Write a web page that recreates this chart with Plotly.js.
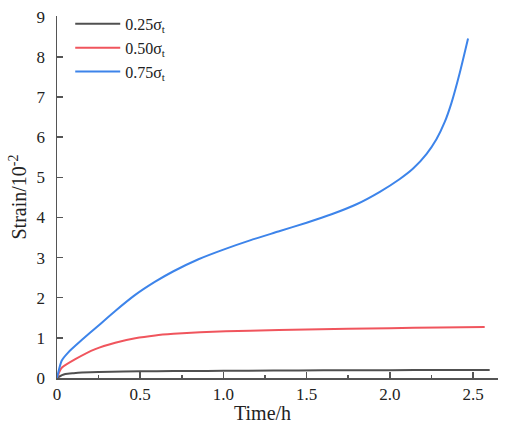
<!DOCTYPE html>
<html>
<head>
<meta charset="utf-8">
<script src="https://cdn.plot.ly/plotly-3.0.1.min.js"></script>
<style>
  html, body { margin: 0; padding: 0; background: #fff; }
  #chart { width: 505px; height: 433px; }
</style>
</head>
<body>
<div id="chart"></div>
<script>
// values
const time25 = [0, 0.03, 0.05, 0.1, 0.15, 0.25, 0.4, 0.6, 0.8, 1.0, 1.3, 1.6, 2.0, 2.3, 2.6];
const strain25 = [0, 0.07, 0.1, 0.12, 0.135, 0.15, 0.165, 0.17, 0.175, 0.18, 0.185, 0.19, 0.195, 0.2, 0.2];

const time50 = [0, 0.015, 0.03, 0.11, 0.23, 0.35, 0.47, 0.59, 0.70, 0.86, 1.16, 1.5, 2.0, 2.3, 2.57];
const strain50 = [0, 0.16, 0.26, 0.47, 0.72, 0.88, 0.99, 1.06, 1.10, 1.14, 1.18, 1.21, 1.24, 1.26, 1.27];

const time75 = [0, 0.028, 0.068, 0.15, 0.25, 0.35, 0.47, 0.59, 0.70, 0.85, 1.0, 1.16, 1.33, 1.5, 1.65, 1.8, 1.94, 2.06, 2.14, 2.22, 2.28, 2.33, 2.37, 2.42, 2.47];
const strain75 = [0, 0.43, 0.64, 0.95, 1.31, 1.67, 2.07, 2.40, 2.66, 2.96, 3.20, 3.43, 3.65, 3.87, 4.08, 4.33, 4.64, 4.96, 5.22, 5.58, 5.95, 6.38, 6.85, 7.6, 8.46];

const seriesNames = ['0.25σ<sub>t</sub>', '0.50σ<sub>t</sub>', '0.75σ<sub>t</sub>'];
const seriesColors = ['#505050', '#f0555d', '#3d84ea'];

const serif = 'Liberation Serif';
const axisColor = '#555555';
const textColor = '#222222';

var traces = [
    { x: time25, y: strain25 },
    { x: time50, y: strain50 },
    { x: time75, y: strain75 }
].map((s, i) => ({
    x: s.x,
    y: s.y,
    type: 'scatter',
    mode: 'lines',
    name: seriesNames[i],
    line: { color: seriesColors[i], width: 2, shape: 'spline', smoothing: 0.6 }
}));

var layout = {
    width: 505,
    height: 433,
    margin: { l: 57, r: 7, t: 10, b: 55 },
    paper_bgcolor: '#ffffff',
    plot_bgcolor: '#ffffff',
    font: { family: serif, size: 17, color: textColor },
    showlegend: true,
    legend: {
        x: 0.03, y: 1.025, xanchor: 'left', yanchor: 'top',
        bgcolor: 'rgba(0,0,0,0)',
        font: { family: serif, size: 16, color: textColor },
        tracegroupgap: 0,
        itemwidth: 45
    },
    xaxis: {
        range: [0, 2.65],
        tickvals: [0, 0.5, 1.0, 1.5, 2.0, 2.5],
        ticktext: ['0', '0.5', '1.0', '1.5', '2.0', '2.5'],
        ticks: 'inside', ticklen: 6, tickwidth: 1.5, tickcolor: axisColor,
        minor: { tickvals: [0.25, 0.75, 1.25, 1.75, 2.25], ticks: 'inside', ticklen: 3, tickwidth: 1.5, tickcolor: axisColor },
        showline: true, linecolor: axisColor, linewidth: 1.5,
        showgrid: false, zeroline: false,
        tickfont: { family: serif, size: 17, color: textColor }
    },
    yaxis: {
        range: [0, 9.02],
        tickvals: [0, 1, 2, 3, 4, 5, 6, 7, 8, 9],
        ticks: 'inside', ticklen: 6, tickwidth: 1.5, tickcolor: axisColor,
        ticklabelstandoff: 7,
        showline: true, linecolor: axisColor, linewidth: 1.5,
        showgrid: false, zeroline: false,
        tickfont: { family: serif, size: 17, color: textColor },
        title: { text: 'Strain/10<sup>-2</sup>', font: { family: serif, size: 20, color: textColor }, standoff: 4 }
    },
    annotations: [{
        text: 'Time/h',
        xref: 'paper', yref: 'paper', x: 0.465, y: 0,
        xanchor: 'center', yanchor: 'middle', yshift: -35,
        showarrow: false,
        font: { family: serif, size: 20, color: textColor }
    }]
};

Plotly.newPlot('chart', traces, layout, { displayModeBar: false, staticPlot: true });
</script>
</body>
</html>
